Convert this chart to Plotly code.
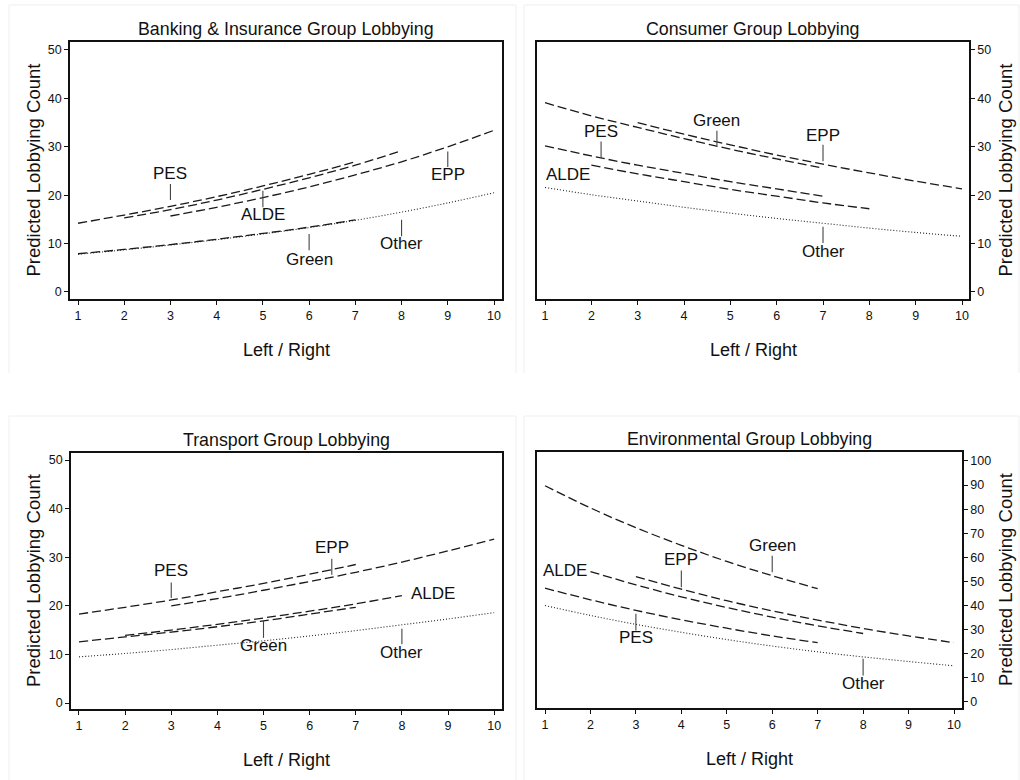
import plotly.graph_objects as go

W, H = 1020, 780

# ---------------- data ----------------
green_x = [1, 2, 3, 4, 5, 6, 7]
pes_x = [1, 2, 3, 4, 5, 6, 7]
alde_x = [2, 3, 4, 5, 6, 7, 8]
epp_x = [3, 4, 5, 6, 7, 8, 9, 10]
other_x = [1, 2, 3, 4, 5, 6, 7, 8, 9, 10]
x_ticks = [1, 2, 3, 4, 5, 6, 7, 8, 9, 10]

bank_pes = [14.2, 15.9, 17.7, 19.7, 21.9, 24.3, 26.9]
bank_alde = [15.3, 17.0, 19.0, 21.2, 23.6, 26.2, 29.2]
bank_epp = [15.7, 17.5, 19.5, 21.7, 24.2, 26.9, 30.0, 33.4]
bank_green = [7.9, 8.8, 9.8, 10.9, 12.1, 13.4, 14.9]
bank_other = [7.8, 8.7, 9.7, 10.8, 12.0, 13.3, 14.8, 16.5, 18.4, 20.5]

cons_green = [39.1, 36.4, 34.0, 31.7, 29.5, 27.5, 25.6]
cons_pes = [30.2, 28.1, 26.2, 24.5, 22.8, 21.3, 19.8]
cons_alde = [26.2, 24.4, 22.8, 21.2, 19.8, 18.4, 17.2]
cons_epp = [35.0, 32.6, 30.4, 28.3, 26.4, 24.6, 22.9, 21.3]
cons_other = [21.6, 20.1, 18.8, 17.5, 16.3, 15.2, 14.2, 13.2, 12.3, 11.5]

trans_pes = [18.3, 19.7, 21.2, 22.9, 24.6, 26.5, 28.5]
trans_epp = [20.0, 21.5, 23.2, 25.0, 26.9, 29.0, 31.3, 33.7]
trans_green = [12.6, 13.6, 14.6, 15.7, 16.9, 18.3, 19.7]
trans_alde = [13.9, 15.0, 16.2, 17.5, 18.9, 20.4, 22.1]
trans_other = [9.5, 10.2, 11.0, 11.9, 12.8, 13.8, 14.9, 16.1, 17.3, 18.6]

env_green = [89.7, 80.5, 72.3, 65.0, 58.3, 52.4, 47.0]
env_epp = [52.0, 46.8, 42.0, 37.8, 34.0, 30.5, 27.4, 24.6]
env_alde = [54.1, 48.6, 43.6, 39.2, 35.2, 31.6, 28.4]
env_pes = [47.2, 42.4, 38.0, 34.1, 30.6, 27.4, 24.6]
env_other = [40.0, 35.9, 32.2, 28.9, 25.9, 23.2, 20.8, 18.7, 16.8, 15.0]

titles = ["Banking & Insurance Group Lobbying", "Consumer Group Lobbying",
          "Transport Group Lobbying", "Environmental Group Lobbying"]

# labels: (text, x, text_y, tick_top, tick_bottom or None)
bank_labels = [("PES", 3, 24.4, 22.3, 19.0), ("ALDE", 5, 16.1, 20.9, 17.5),
               ("Green", 6, 6.7, 12.0, 8.6), ("Other", 8, 10.0, 14.9, 11.5),
               ("EPP", 9, 24.2, 29.0, 25.8)]
cons_labels = [("Green", 4.71, 35.5, 33.3, 30.2), ("PES", 2.21, 33.2, 31.1, 27.7),
               ("ALDE", 1.5, 24.2, None, None), ("EPP", 7.0, 32.3, 30.4, 27.0),
               ("Other", 7.0, 8.4, 13.5, 10.1)]
trans_labels = [("PES", 3, 27.2, 24.8, 21.6), ("EPP", 6.48, 32.1, 29.7, 26.4),
                ("ALDE", 8.68, 22.6, None, None), ("Green", 5, 11.9, 16.9, 13.4),
                ("Other", 8, 10.3, 15.3, 12.1)]
env_labels = [("Green", 6, 65.1, 60.7, 53.8), ("EPP", 4, 59.3, 54.5, 47.6),
              ("ALDE", 1.44, 54.5, None, None), ("PES", 3, 26.9, 36.6, 29.7),
              ("Other", 8, 7.6, 17.9, 11.0)]

y_ticks_small = [0, 10, 20, 30, 40, 50]
y_ticks_env = [0, 10, 20, 30, 40, 50, 60, 70, 80, 90, 100]

# ---------------- layout geometry (pixels) ----------------
panels = [
    dict(px=(70, 502), py=(42, 299), xr=[0.827, 10.173], yr=[-1.45, 51.65], side="left",
         yt=y_ticks_small,
         series=[(bank_pes, pes_x), (bank_alde, alde_x), (bank_epp, epp_x), (bank_green, green_x)],
         other=bank_other, labels=bank_labels),
    dict(px=(537, 969), py=(42, 299), xr=[0.827, 10.151], yr=[-1.45, 51.65], side="right",
         yt=y_ticks_small,
         series=[(cons_pes, pes_x), (cons_alde, alde_x), (cons_epp, epp_x), (cons_green, green_x)],
         other=cons_other, labels=cons_labels),
    dict(px=(71, 502), py=(453, 709), xr=[0.827, 10.17], yr=[-1.23, 51.44], side="left",
         yt=y_ticks_small,
         series=[(trans_pes, pes_x), (trans_alde, alde_x), (trans_epp, epp_x), (trans_green, green_x)],
         other=trans_other, labels=trans_labels),
    dict(px=(537, 962), py=(452, 708), xr=[0.824, 10.176], yr=[-2.5, 103.7], side="right",
         yt=y_ticks_env,
         series=[(env_pes, pes_x), (env_alde, alde_x), (env_epp, epp_x), (env_green, green_x)],
         other=env_other, labels=env_labels),
]

FONT = "Liberation Sans, Arial, Helvetica, sans-serif"
INK = "#111111"

fig = go.Figure()
layout = dict(width=W, height=H, margin=dict(l=0, r=0, t=0, b=0),
              paper_bgcolor="white", plot_bgcolor="white", showlegend=False,
              font=dict(family=FONT, color=INK))
annotations = []
shapes = []

for i, p in enumerate(panels):
    n = "" if i == 0 else str(i + 1)
    xa, ya = "x" + n, "y" + n
    xd = [p["px"][0] / W, p["px"][1] / W]
    yd = [1 - p["py"][1] / H, 1 - p["py"][0] / H]
    common = dict(showline=True, mirror=True, linecolor=INK, linewidth=1.5,
                  ticks="outside", ticklen=4, tickwidth=1, tickcolor=INK,
                  showgrid=False, zeroline=False, fixedrange=True,
                  tickfont=dict(size=12.5, color=INK, family=FONT))
    layout["xaxis" + n] = dict(domain=xd, range=p["xr"], anchor=ya, tickmode="array",
                               tickvals=x_ticks, **common)
    layout["yaxis" + n] = dict(domain=yd, range=p["yr"], anchor=xa, side=p["side"],
                               tickmode="array", tickvals=p["yt"], **common)

    # other (dotted)
    fig.add_trace(go.Scatter(x=other_x, y=p["other"], mode="lines", xaxis=xa, yaxis=ya,
                             line=dict(color="#222222", width=1.1, dash="1px,2px", shape="spline"),
                             hoverinfo="skip"))
    for ys, xs in p["series"]:
        fig.add_trace(go.Scatter(x=xs, y=ys, mode="lines", xaxis=xa, yaxis=ya,
                                 line=dict(color="#1a1a1a", width=1.3, dash="9px,4px", shape="spline"),
                                 hoverinfo="skip"))
    for text, lx, ty, t0, t1 in p["labels"]:
        annotations.append(dict(text=text, x=lx, y=ty, xref=xa, yref=ya, showarrow=False,
                                xanchor="center", yanchor="middle",
                                font=dict(size=17, color=INK, family=FONT)))
        if t0 is not None:
            fig.add_trace(go.Scatter(x=[lx, lx], y=[t0, t1], mode="lines", xaxis=xa, yaxis=ya,
                                     line=dict(color="#444444", width=1.1), hoverinfo="skip"))

    cx = (p["px"][0] + p["px"][1]) / 2 / W
    # panel title
    annotations.append(dict(text=titles[i], x=cx, y=1 - (p["py"][0] - 13) / H, xref="paper",
                            yref="paper", showarrow=False, xanchor="center", yanchor="middle",
                            font=dict(size=17.8, color=INK, family=FONT)))
    # x axis title
    annotations.append(dict(text="Left / Right", x=cx, y=1 - (p["py"][1] + 51) / H, xref="paper",
                            yref="paper", showarrow=False, xanchor="center", yanchor="middle",
                            font=dict(size=18, color=INK, family=FONT)))
    # y axis title
    ytx = 33 if p["side"] == "left" else 1005
    annotations.append(dict(text="Predicted Lobbying Count", x=ytx / W,
                            y=1 - (p["py"][0] + p["py"][1]) / 2 / H, xref="paper", yref="paper",
                            showarrow=False, xanchor="center", yanchor="middle", textangle=-90,
                            font=dict(size=18.5, color=INK, family=FONT)))

# faint borders of the combined sub-graph regions
for (x0, x1) in [(9, 516), (524, 1019)]:
    for (y0, y1) in [(5, 373), (416, 780)]:
        for seg in [(x0, y0, x0, y1), (x0, y0, x1, y0), (x1, y0, x1, y1)]:
            shapes.append(dict(type="line", xref="paper", yref="paper",
                               x0=seg[0] / W, y0=1 - seg[1] / H, x1=seg[2] / W, y1=1 - seg[3] / H,
                               line=dict(color="#efefef", width=1)))

layout["annotations"] = annotations
layout["shapes"] = shapes
fig.update_layout(**layout)
fig.write_html("out.html")
